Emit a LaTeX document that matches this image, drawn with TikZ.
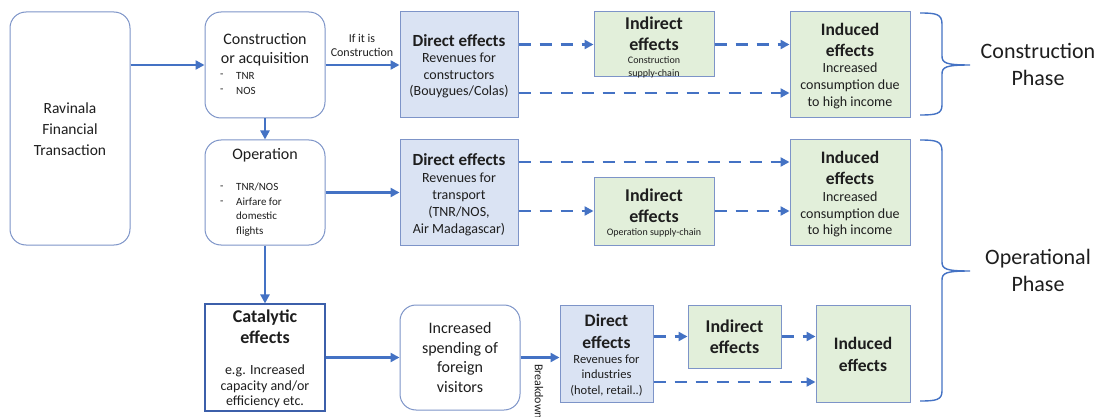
\documentclass[tikz,border=0pt]{standalone}
\usepackage{fontspec}
\setmainfont{Carlito}
\usetikzlibrary{arrows.meta}
\definecolor{arr}{RGB}{68,114,196}
\definecolor{bord}{RGB}{125,148,200}
\definecolor{catb}{RGB}{60,95,170}
\definecolor{dfill}{RGB}{218,227,243}
\definecolor{gfill}{RGB}{226,239,218}
\definecolor{txt}{RGB}{30,30,30}
\newcommand{\fs}[1]{\fontsize{#1}{#1}\selectfont}
\begin{document}
\begin{tikzpicture}[x=1pt,y=-1pt,
 rbox/.style={draw=bord, line width=1pt, rounded corners=16pt, fill=white, inner sep=0pt},
 dbox/.style={draw=bord, line width=1pt, fill=dfill, inner sep=0pt},
 gbox/.style={draw=bord, line width=1pt, fill=gfill, inner sep=0pt},
 cbox/.style={draw=catb, line width=1.1pt, fill=white, inner sep=0pt},
 sarr/.style={draw=arr, line width=2.4pt, -{Triangle[length=9pt,width=9pt]}},
 darr/.style={sarr, dash pattern=on 12pt off 9pt},
 t/.style={inner sep=0pt, align=center, text=txt},
 tl/.style={inner sep=0pt, align=left, anchor=west, text=txt},
 brc/.style={draw=arr, line width=1.4pt}]
\clip (0,0) rectangle (1103,417);
\fill[white] (0,0) rectangle (1103,417);

% boxes
\node[rbox, minimum width=120pt, minimum height=233pt] (rav) at (70,128.5) {};
\node[rbox, minimum width=120pt, minimum height=106pt] (cons) at (265,65) {};
\node[rbox, minimum width=120pt, minimum height=105pt] (oper) at (265,192.5) {};
\node[cbox, minimum width=120pt, minimum height=107pt] (cat) at (265,357.5) {};
\node[rbox, minimum width=120pt, minimum height=105pt] (spend) at (460,357.5) {};
\node[dbox, minimum width=118pt, minimum height=106pt] (dir1) at (459,65) {};
\node[dbox, minimum width=118pt, minimum height=105pt] (dir2) at (459,192.5) {};
\node[gbox, minimum width=120pt, minimum height=65pt] (ind1) at (654,44.5) {};
\node[gbox, minimum width=120pt, minimum height=68pt] (ind2) at (654,211) {};
\node[gbox, minimum width=120pt, minimum height=106pt] (ndc1) at (850,65) {};
\node[gbox, minimum width=120pt, minimum height=105pt] (ndc2) at (850,192.5) {};
\node[dbox, minimum width=93pt, minimum height=97pt] (dir3) at (606.5,353.5) {};
\node[gbox, minimum width=93pt, minimum height=63pt] (ind3) at (734.5,336.5) {};
\node[gbox, minimum width=94pt, minimum height=97pt] (ndc3) at (863,353.5) {};

% texts
\node[t, font=\fontsize{15.5}{21}\selectfont] (ravt) at (70,129) {Ravinala\\Financial\\Transaction};
\node[t, font=\fontsize{16}{19}\selectfont] (const) at (265,49.5) {Construction\\or acquisition};
\node[tl, font=\fs{11}] (consd1) at (220,76) {-};
\node[tl, font=\fs{11}] (consd2) at (220,91) {-};
\node[tl, font=\fs{11}] (cons1) at (236,76) {TNR};
\node[tl, font=\fs{11}] (cons2) at (236,91) {NOS};
\node[t, font=\fs{16}] (opert) at (265,155) {Operation};
\node[tl, font=\fs{11}] (operd1) at (220,188) {-};
\node[tl, font=\fs{11}] (operd2) at (220,203) {-};
\node[tl, font=\fontsize{11}{14.7}\selectfont, anchor=north west] (oper1) at (236,182.5) {TNR/NOS\\Airfare for\\domestic\\flights};
\node[t, font=\bfseries\fontsize{18}{21}\selectfont] (catt) at (265,326.5) {Catalytic\\effects};
\node[t, font=\fontsize{14}{15.5}\selectfont] (catb) at (265,386.5) {e.g. Increased\\capacity and/or\\efficiency etc.};
\node[t, font=\fontsize{16}{19.7}\selectfont] (spendt) at (460,357.5) {Increased\\spending of\\foreign\\visitors};
\node[t, font=\fontsize{12}{14}\selectfont] (ifc) at (362,45) {If it is\\Construction};

\node[t, font=\bfseries\fs{17}] (dir1a) at (459,41) {Direct effects};
\node[t, font=\fontsize{14}{16.7}\selectfont] (dir1b) at (459,75.5) {Revenues for\\constructors\\(Bouygues/Colas)};
\node[t, font=\bfseries\fs{17}] (dir2a) at (459,160) {Direct effects};
\node[t, font=\fontsize{14}{17}\selectfont] (dir2b) at (459,204) {Revenues for\\transport\\(TNR/NOS,\\Air Madagascar)};
\node[t, font=\bfseries\fontsize{18}{21.5}\selectfont] (ind1a) at (654,34) {Indirect\\effects};
\node[t, font=\fontsize{10}{13}\selectfont] (ind1b) at (654,67.5) {Construction\\supply-chain};
\node[t, font=\bfseries\fontsize{18}{21}\selectfont] (ind2a) at (654,205.5) {Indirect\\effects};
\node[t, font=\fs{10}] (ind2b) at (654,233) {Operation supply-chain};
\node[t, font=\bfseries\fontsize{17.5}{21}\selectfont] (ndc1a) at (850,39.5) {Induced\\effects};
\node[t, font=\fontsize{14}{17}\selectfont] (ndc1b) at (850,86) {Increased\\consumption due\\to high income};
\node[t, font=\bfseries\fontsize{17.5}{21}\selectfont] (ndc2a) at (850,167.5) {Induced\\effects};
\node[t, font=\fontsize{14}{16.5}\selectfont] (ndc2b) at (850,214.5) {Increased\\consumption due\\to high income};
\node[t, font=\bfseries\fontsize{17.5}{22}\selectfont] (dir3a) at (606.5,331) {Direct\\effects};
\node[t, font=\fontsize{12.5}{15.5}\selectfont] (dir3b) at (606.5,375.5) {Revenues for\\industries\\(hotel, retail..)};
\node[t, font=\bfseries\fontsize{18}{21}\selectfont] (ind3a) at (734.5,336.5) {Indirect\\effects};
\node[t, font=\bfseries\fontsize{17.5}{22}\selectfont] (ndc3a) at (863,354) {Induced\\effects};
\node[t, font=\fs{12}, rotate=-90, anchor=west] (brk) at (539,364) {Breakdown};

\node[t, font=\fontsize{22}{27}\selectfont] (ph1) at (1038,64.5) {Construction\\Phase};
\node[t, font=\fontsize{22}{27}\selectfont] (ph2) at (1038,270.5) {Operational\\Phase};

% solid arrows
\draw[sarr] (rav.east |- cons.west) -- (cons.west);
\draw[sarr] (cons.east) -- (dir1.west);
\draw[sarr] (cons.south) -- (oper.north);
\draw[sarr] (oper.east) -- (dir2.west);
\draw[sarr] (oper.south) -- (cat.north);
\draw[sarr] (cat.east) -- (spend.west);
\draw[sarr] (spend.east) -- (dir3.west |- spend.east);

% dashed arrows
\draw[darr] (dir1.east |- ind1.west) -- (ind1.west);
\draw[darr] (ind1.east) -- (ndc1.west |- ind1.east);
\draw[darr] ([yshift=-28pt]dir1.east) -- ([yshift=-28pt]ndc1.west);
\draw[darr] ([yshift=30.5pt]dir2.east) -- ([yshift=30.5pt]ndc2.west);
\draw[darr] (dir2.east |- ind2.west) -- (ind2.west);
\draw[darr] (ind2.east) -- (ndc2.west |- ind2.east);
\draw[darr] (dir3.east |- ind3.west) -- (ind3.west);
\draw[darr] (ind3.east) -- (ndc3.west |- ind3.east);
\draw[darr] ([yshift=-28.5pt]dir3.east) -- ([yshift=-28.5pt]ndc3.west);

% braces
\draw[brc] (920,13) .. controls (936,13) and (942,14) .. (942,24) -- (942,56)
  .. controls (942,63) and (946,65) .. (970,65)
  .. controls (946,65) and (942,67) .. (942,74) -- (942,105)
  .. controls (942,114) and (936,115) .. (920,115);
\draw[brc] (920,140) .. controls (936,140) and (942,141) .. (942,151) -- (942,262)
  .. controls (942,269) and (946,271) .. (970,271)
  .. controls (946,271) and (942,273) .. (942,280) -- (942,391)
  .. controls (942,400) and (936,401) .. (920,401);
\end{tikzpicture}
\end{document}
